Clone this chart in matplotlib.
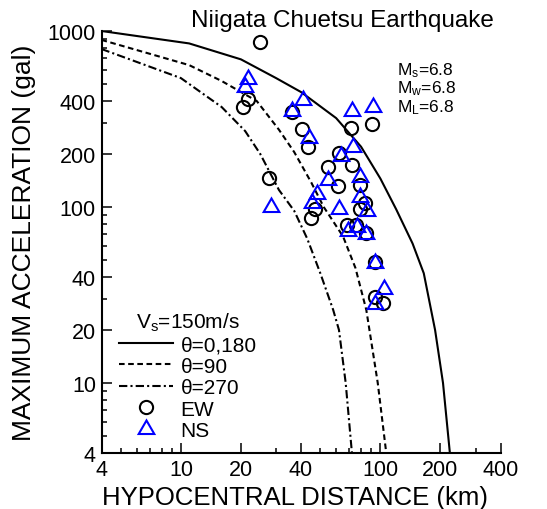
import numpy as np
import matplotlib
matplotlib.use("Agg")
import matplotlib.pyplot as plt
from matplotlib.lines import Line2D
from matplotlib.ticker import FixedLocator, FixedFormatter, NullFormatter

# theoretical curves, Vs = 150 m/s
r_solid = [4, 11, 20, 30, 40, 60, 80, 100, 120, 145, 165, 188, 206, 223]
a_solid = [1000, 850, 690, 540, 450, 320, 220, 145, 97, 62, 42, 20, 10, 4]
r_dash = [4, 11, 16, 24, 31, 37, 45, 52, 65, 75, 85, 97, 107]
a_dash = [890, 640, 520, 400, 275, 205, 138, 100, 68, 45, 26, 10, 4]
r_dashdot = [4, 10, 16, 21, 25, 31, 37, 43, 50, 58, 62, 67, 72]
a_dashdot = [790, 540, 370, 270, 200, 125, 95, 66, 42, 26, 20, 10, 4]

# observed peak accelerations
ew_r = [24.9, 21.6, 20.5, 35.9, 40.3, 71.2, 91.1, 43.5, 62.2, 72.3, 54.4, 27.7,
        61.5, 79.0, 83.7, 47.0, 79.0, 44.9, 68.3, 75.2, 84.7, 94.0, 94.0, 103.4]
ew_a = [862, 411, 371, 345, 277, 281, 296, 218, 203, 173, 168, 146,
        131, 134, 105, 97.4, 97.4, 86.3, 79.0, 79.0, 70.9, 48.9, 30.7, 28.5]
ns_r = [21.8, 21.0, 40.8, 35.9, 71.8, 91.5, 44.0, 73.2, 63.5, 79.0, 54.8, 48.0,
        79.0, 45.3, 28.2, 61.8, 85.4, 69.1, 76.1, 84.7, 94.0, 104.2, 94.0]
ns_a = [534, 479, 407, 353, 350, 369, 246, 218, 194, 148, 142, 119,
        114, 105, 99.6, 97.0, 94.9, 73.3, 76.7, 70.2, 47.9, 34.2, 28.1]

x_major = [4, 10, 20, 40, 100, 200, 400]
x_minor = [5, 6, 7, 8, 9, 30, 50, 60, 70, 80, 90, 300]
y_major = [4, 10, 20, 40, 100, 200, 400, 1000]
y_minor = [5, 6, 7, 8, 9, 30, 50, 60, 70, 80, 90, 300, 500, 600, 700, 800, 900]

plt.rcParams.update({
    "font.family": "Liberation Sans",
    "mathtext.fontset": "custom",
    "mathtext.rm": "Liberation Sans",
    "mathtext.it": "Liberation Sans:italic",
    "axes.linewidth": 1.5,
})

SOLID = '-'
DASH = (0, (2.7, 1.7))
DASHDOT = (0, (4, 1.5, 1, 1.5))
TRI = (3, 0, 0)

fig = plt.figure(figsize=(5.47, 5.10), dpi=100)
ax = fig.add_axes([101.5 / 547, 56 / 510, 399 / 547, 422 / 510])

ax.plot(r_solid, a_solid, color='black', lw=1.5, ls=SOLID)
ax.plot(r_dash, a_dash, color='black', lw=1.5, ls=DASH)
ax.plot(r_dashdot, a_dashdot, color='black', lw=1.5, ls=DASHDOT)

ax.plot(ew_r, ew_a, ls='none', marker='o', ms=9.5, mfc='none', mec='black', mew=1.5)
ax.plot(ns_r, ns_a, ls='none', marker=TRI, ms=13, mfc='none', mec='#0000ff', mew=1.5)

ax.set_xscale('log')
ax.set_yscale('log')
ax.set_xlim(4, 400)
ax.set_ylim(4, 1000)
ax.xaxis.set_major_locator(FixedLocator(x_major))
ax.xaxis.set_major_formatter(FixedFormatter([str(v) for v in x_major]))
ax.xaxis.set_minor_locator(FixedLocator(x_minor))
ax.xaxis.set_minor_formatter(NullFormatter())
ax.yaxis.set_major_locator(FixedLocator(y_major))
ax.yaxis.set_major_formatter(FixedFormatter([str(v) for v in y_major]))
ax.yaxis.set_minor_locator(FixedLocator(y_minor))
ax.yaxis.set_minor_formatter(NullFormatter())
ax.tick_params(which='both', direction='in', width=1.1, labelsize=15.5, pad=4)
ax.tick_params(which='major', length=7)
ax.tick_params(which='minor', length=3.5)
ax.spines['top'].set_visible(False)
ax.spines['right'].set_visible(False)

ax.set_xlabel('HYPOCENTRAL DISTANCE (km)', fontsize=18.5)
ax.xaxis.set_label_coords(0.485, -0.075)
ax.set_ylabel('MAXIMUM ACCELERATION (gal)', fontsize=19)
ax.yaxis.set_label_coords(-0.163, 0.5)

fig.text(342 / 547, 1 - 21 / 510, 'Niigata Chuetsu Earthquake', fontsize=17.5,
         ha='center', va='center')
fig.text(397 / 547, 1 - 89 / 510,
         'M$_\\mathrm{s}$=6.8\nM$_\\mathrm{w}$=6.8\nM$_\\mathrm{L}$=6.8',
         fontsize=12.5, ha='left', va='center', linespacing=1.0)

handles = [
    Line2D([0], [0], color='black', lw=1.5, ls=SOLID),
    Line2D([0], [0], color='black', lw=1.5, ls=DASH),
    Line2D([0], [0], color='black', lw=1.5, ls=DASHDOT),
    Line2D([0], [0], ls='none', marker='o', ms=9.5, mfc='none', mec='black', mew=1.5),
    Line2D([0], [0], ls='none', marker=TRI, ms=13, mfc='none', mec='#0000ff', mew=1.5),
]
labels = ['θ=0,180', 'θ=90', 'θ=270', 'EW', 'NS']
leg = ax.legend(handles, labels, title=r'V$_\mathrm{s}$=150m/s', loc='upper left',
                bbox_to_anchor=(0.044, 0.338), frameon=False, fontsize=15,
                title_fontsize=15, handlelength=2.6, handletextpad=0.35,
                labelspacing=0.12, borderpad=0, borderaxespad=0)

fig.savefig('out.png', dpi=100)
